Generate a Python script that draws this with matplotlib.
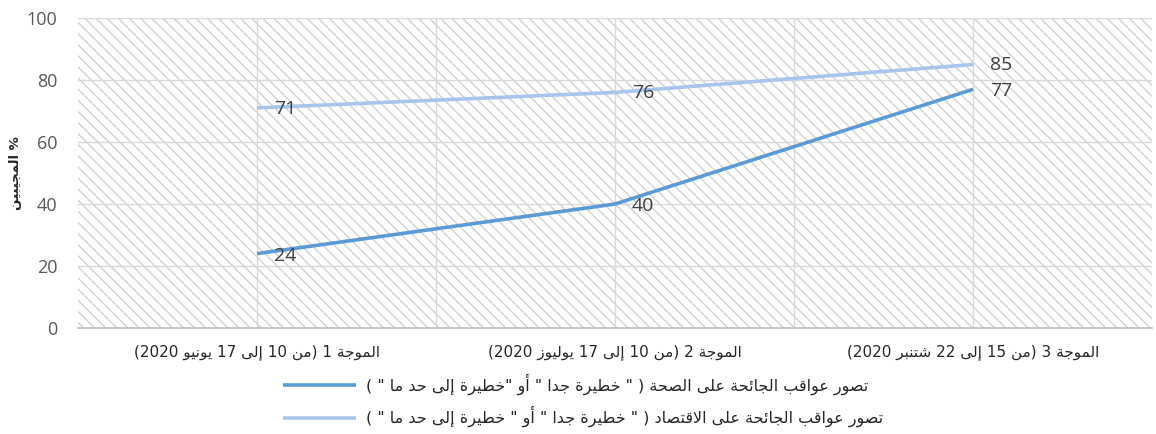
import re
import matplotlib
matplotlib.use("Agg")
import matplotlib.pyplot as plt

# data
waves = ["الموجة 1 (من 10 إلى 17 يونيو 2020)",
         "الموجة 2 (من 10 إلى 17 يوليوز 2020)",
         "الموجة 3 (من 15 إلى 22 شتنبر 2020)"]
health = [24, 40, 77]
economy = [71, 76, 85]
health_label = 'تصور عواقب الجائحة على الصحة ( " خطيرة جدا " أو "خطيرة إلى حد ما " )'
economy_label = 'تصور عواقب الجائحة على الاقتصاد ( " خطيرة جدا " أو " خطيرة إلى حد ما " )'
y_label = "% المجيبين"
y_ticks = [0, 20, 40, 60, 80, 100]


# matplotlib has no arabic shaping, so map letters to presentation forms
letters = "ءآأؤإئابةتثجحخدذرزسشصضطظعغفقكلمنهوىي"
right_only = set("آأؤإاةدذرزوى")
forms = {}
cp = 0xFE80
for ch in letters:
    if ch == "ء":
        forms[ch] = (chr(cp),) * 4
        cp += 1
    elif ch in right_only:
        forms[ch] = (chr(cp), chr(cp + 1), chr(cp), chr(cp + 1))
        cp += 2
    else:
        forms[ch] = tuple(chr(cp + k) for k in range(4))
        cp += 4
dual = set(ch for ch in letters if ch not in right_only and ch != "ء")
lam_alef = {"آ": 0xFEF5, "أ": 0xFEF7, "إ": 0xFEF9, "ا": 0xFEFB}


def shape(s):
    out = []
    i = 0
    while i < len(s):
        ch = s[i]
        prev = s[i - 1] if i > 0 else ""
        nxt = s[i + 1] if i + 1 < len(s) else ""
        joins_prev = prev in dual
        if ch == "ل" and nxt in lam_alef:
            out.append(chr(lam_alef[nxt] + (1 if joins_prev else 0)))
            i += 2
            continue
        if ch in forms:
            joins_next = ch in dual and nxt in forms and nxt != "ء"
            iso, fin, ini, med = forms[ch]
            if joins_prev and joins_next:
                out.append(med)
            elif joins_prev:
                out.append(fin)
            elif joins_next:
                out.append(ini)
            else:
                out.append(iso)
        else:
            out.append(ch)
        i += 1
    return "".join(out)


def ar(s):
    # shape, then put in visual (left to right) order, numbers stay as they are
    s = shape(s)
    mirror = {"(": ")", ")": "("}
    parts = re.split(r"(\d+)", s)
    res = []
    for p in reversed(parts):
        if p.isdigit():
            res.append(p)
        else:
            res.append("".join(mirror.get(c, c) for c in reversed(p)))
    return "".join(res)


plt.rcParams["hatch.color"] = "#d2d2d2"
plt.rcParams["hatch.linewidth"] = 1.0

fig = plt.figure(figsize=(11.56, 4.34), dpi=100)
ax = fig.add_axes([78 / 1156, 1 - 328 / 434, 1074 / 1156, 310 / 434])

x = list(range(len(waves)))
ax.set_xlim(-0.5, 2.5)
ax.set_ylim(0, 100)

# hatched plot background
ax.fill_between([-0.5, 2.5], 0, 100, facecolor="white", edgecolor="#d2d2d2",
                hatch="\\\\\\", linewidth=0, zorder=0)

for v in y_ticks[1:]:
    ax.axhline(v, color="#d9d9d9", lw=1.0, zorder=1)
for v in [0, 0.5, 1, 1.5, 2]:
    ax.axvline(v, color="#d9d9d9", lw=1.0, zorder=1)

l1, = ax.plot(x, health, color="#5b9bd5", lw=2.6, solid_capstyle="butt", zorder=3)
l2, = ax.plot(x, economy, color="#a9c5ea", lw=2.6, solid_capstyle="butt", zorder=3)

for xi, v in zip(x, health):
    ax.annotate(str(v), (xi, v), xytext=(17, -2), textcoords="offset pixels",
                ha="left", va="center", fontsize=14, color="#404040",
                family="Open Sans", zorder=4)
for xi, v in zip(x, economy):
    ax.annotate(str(v), (xi, v), xytext=(17, -1), textcoords="offset pixels",
                ha="left", va="center", fontsize=14, color="#404040",
                family="Open Sans", zorder=4)

for s in ["top", "right", "left"]:
    ax.spines[s].set_visible(False)
ax.spines["bottom"].set_color("#bfbfbf")
ax.spines["bottom"].set_linewidth(1.2)

ax.set_yticks(y_ticks)
ax.set_yticklabels([str(v) for v in y_ticks], family="Open Sans", fontsize=13,
                   color="#595959")
ax.set_xticks(x)
ax.set_xticklabels([ar(w) for w in waves], family="DejaVu Sans", fontsize=11,
                   color="#262626")
ax.tick_params(length=0)
ax.tick_params(axis="x", pad=12)
ax.tick_params(axis="y", pad=15)

ax.set_ylabel(ar(y_label), family="DejaVu Sans", fontsize=9.5, fontweight="bold",
              color="#262626", labelpad=3)

fig.legend([l1, l2], [ar(health_label), ar(economy_label)],
           loc="upper left", bbox_to_anchor=(278 / 1156, 1 - 369 / 434),
           frameon=False, handlelength=4.6, handletextpad=0.6, labelspacing=0.68,
           borderaxespad=0, borderpad=0.3,
           prop={"family": "DejaVu Sans", "size": 11.5}, labelcolor="#262626")

fig.savefig("out.png", dpi=100)
